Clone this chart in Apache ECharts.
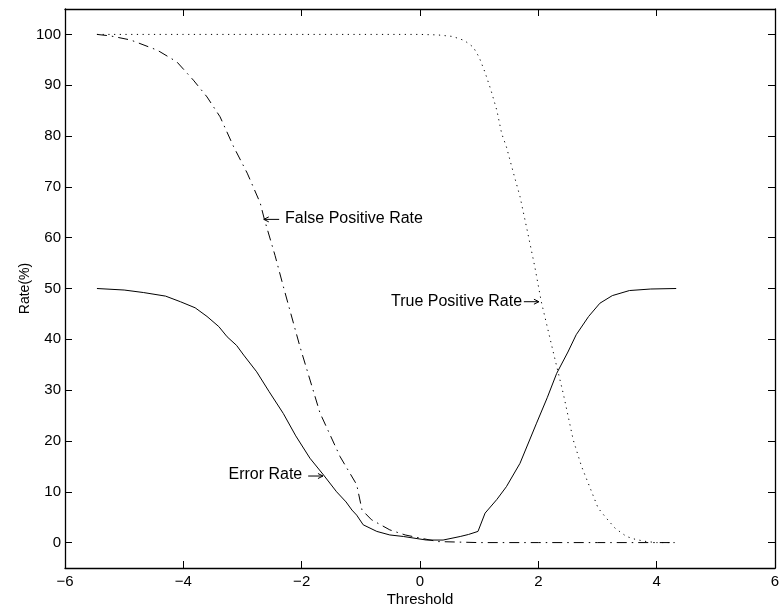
<!DOCTYPE html>
<html>
<head>
<meta charset="utf-8">
<script src="https://cdn.jsdelivr.net/npm/echarts@6/dist/echarts.min.js"></script>
<style>html,body{margin:0;padding:0;background:#fff}#c{width:780px;height:610px}</style>
</head>
<body>
<div id="c"></div>
<script>
var xTicks = [-6, -4, -2, 0, 2, 4, 6];
var yTicks = [0, 10, 20, 30, 40, 50, 60, 70, 80, 90, 100];

var errX = [-5.46, -5.0, -4.67, -4.3, -4.05, -3.8, -3.6, -3.4, -3.26, -3.1, -2.98, -2.76, -2.55, -2.31, -2.1, -1.86, -1.63, -1.41, -1.25, -1.15, -1.07, -0.96, -0.73, -0.51, -0.28, 0.11, 0.39, 0.68, 0.82, 0.98, 1.10, 1.30, 1.46, 1.69, 1.97, 2.15, 2.31, 2.50, 2.64, 2.85, 3.04, 3.25, 3.54, 3.9, 4.33];
var errY = [50.0, 49.7, 49.2, 48.5, 47.4, 46.2, 44.5, 42.5, 40.5, 38.8, 36.9, 33.6, 29.7, 25.4, 21.0, 16.6, 13.3, 10.0, 8.0, 6.4, 5.4, 3.5, 2.2, 1.5, 1.2, 0.5, 0.5, 1.2, 1.6, 2.2, 5.8, 8.5, 11.0, 15.6, 23.5, 28.5, 33.3, 37.5, 40.9, 44.5, 47.1, 48.6, 49.6, 49.9, 50.0];

var fprX = [-5.46, -5.23, -4.89, -4.44, -4.11, -3.83, -3.6, -3.38, -3.15, -2.92, -2.70, -2.63, -2.45, -2.31, -2.03, -1.69, -1.35, -1.07, -0.98, -0.82, -0.51, -0.25, 0.0, 0.3, 1.0, 2.0, 3.0, 4.0, 4.3];
var fprY = [100, 99.7, 98.9, 96.9, 94.6, 91.0, 87.7, 83.8, 77.9, 72.7, 66.8, 63.6, 56.5, 50.4, 38.6, 25.5, 16.9, 11.4, 6.4, 4.5, 2.5, 1.5, 0.9, 0.2, 0, 0, 0, 0, 0];

var tprX = [-5.46, -4, -2, 0, 0.3, 0.55, 0.75, 0.9, 1.0, 1.1, 1.2, 1.3, 1.38, 1.46, 1.58, 1.69, 1.82, 1.94, 2.05, 2.25, 2.42, 2.59, 2.73, 2.87, 3.01, 3.15, 3.3, 3.49, 3.65, 3.83, 4.0, 4.33];
var tprY = [100, 100, 100, 100, 99.9, 99.6, 98.8, 97.5, 95.5, 92.5, 89, 85, 80.5, 77.9, 72.7, 68.1, 61, 54.3, 47.4, 37.6, 29.4, 20.2, 15.0, 10.9, 6.8, 4.8, 2.8, 1.2, 0.6, 0.2, 0, 0];

var annText = ['False Positive Rate', 'Error Rate', 'True Positive Rate'];
var annTip = [[-2.64, 63.6], [-1.64, 13.1], [2.01, 47.4]];
var annTail = [[-2.38, 63.6], [-1.89, 13.1], [1.755, 47.4]];
var annTextAt = [[-2.28, 63.8], [-1.99, 13.3], [1.725, 47.5]];
var annAlign = ['left', 'right', 'right'];

function zip(a, b) { return a.map(function (v, i) { return [v, b[i]]; }); }

var FONT = 'Liberation Sans, Arial, Helvetica, sans-serif';
var chart = echarts.init(document.getElementById('c'), null, { renderer: 'canvas' });

function xAxisCfg(pos, showLabel) {
  return {
    type: 'value', position: pos, min: -6, max: 6, interval: 2,
    axisLine: { show: true, onZero: false, lineStyle: { color: '#000', width: 1.3 } },
    axisTick: { show: true, inside: true, length: 7, lineStyle: { color: '#000' } },
    axisLabel: { show: showLabel, color: '#000', fontFamily: FONT, fontSize: 15, margin: 6,
      formatter: function (v) { return String(v).replace('-', '\u2212'); } },
    splitLine: { show: false },
    name: showLabel ? 'Threshold' : '', nameLocation: 'middle', nameGap: 24, nameMoveOverlap: false,
    nameTextStyle: { color: '#000', fontFamily: FONT, fontSize: 15 }
  };
}
function yAxisCfg(pos, showLabel) {
  return {
    type: 'value', position: pos, min: -5, max: 105,
    axisLine: { show: true, onZero: false, lineStyle: { color: '#000', width: 1.3 } },
    axisTick: { show: true, inside: true, length: 7, customValues: yTicks, lineStyle: { color: '#000' } },
    axisLabel: { show: showLabel, color: '#000', fontFamily: FONT, fontSize: 15, margin: 4, customValues: yTicks },
    splitLine: { show: false },
    name: showLabel ? 'Rate(%)' : '', nameLocation: 'middle', nameGap: 33, nameMoveOverlap: false,
    nameTextStyle: { color: '#000', fontFamily: FONT, fontSize: 14 }
  };
}

var option = {
  animation: false,
  backgroundColor: '#fff',
  grid: { left: 65, right: 5, top: 9, bottom: 42, containLabel: false, outerBoundsMode: 'none' },
  xAxis: [xAxisCfg('bottom', true), xAxisCfg('top', false)],
  yAxis: [yAxisCfg('left', true), yAxisCfg('right', false)],
  series: [
    { type: 'line', name: 'Error Rate', data: zip(errX, errY), showSymbol: false, symbol: 'none',
      lineStyle: { color: '#000', width: 1, type: 'solid' } },
    { type: 'line', name: 'False Positive Rate', data: zip(fprX, fprY), showSymbol: false, symbol: 'none',
      lineStyle: { color: '#000', width: 1, type: [10, 5, 1.5, 5] } },
    { type: 'line', name: 'True Positive Rate', data: zip(tprX, tprY), showSymbol: false, symbol: 'none',
      lineStyle: { color: '#000', width: 1, type: [1.2, 4.5] } }
  ]
};
chart.setOption(option);

var g = [];
for (var i = 0; i < annText.length; i++) {
  var tip = chart.convertToPixel({ gridIndex: 0 }, annTip[i]);
  var tail = chart.convertToPixel({ gridIndex: 0 }, annTail[i]);
  var tp = chart.convertToPixel({ gridIndex: 0 }, annTextAt[i]);
  var dir = tip[0] > tail[0] ? 1 : -1;
  g.push({ type: 'polyline', shape: { points: [tail, tip] }, style: { stroke: '#000', lineWidth: 1, fill: null } });
  g.push({ type: 'polyline', shape: { points: [[tip[0] - dir * 5, tip[1] - 2.5], tip, [tip[0] - dir * 5, tip[1] + 2.5]] },
    style: { stroke: '#000', lineWidth: 1, fill: null } });
  g.push({ type: 'text', x: tp[0], y: tp[1],
    style: { text: annText[i], fill: '#000', font: '16px ' + FONT,
      textAlign: annAlign[i], textVerticalAlign: 'middle' } });
}
chart.setOption({ graphic: g });
</script>
</body>
</html>
